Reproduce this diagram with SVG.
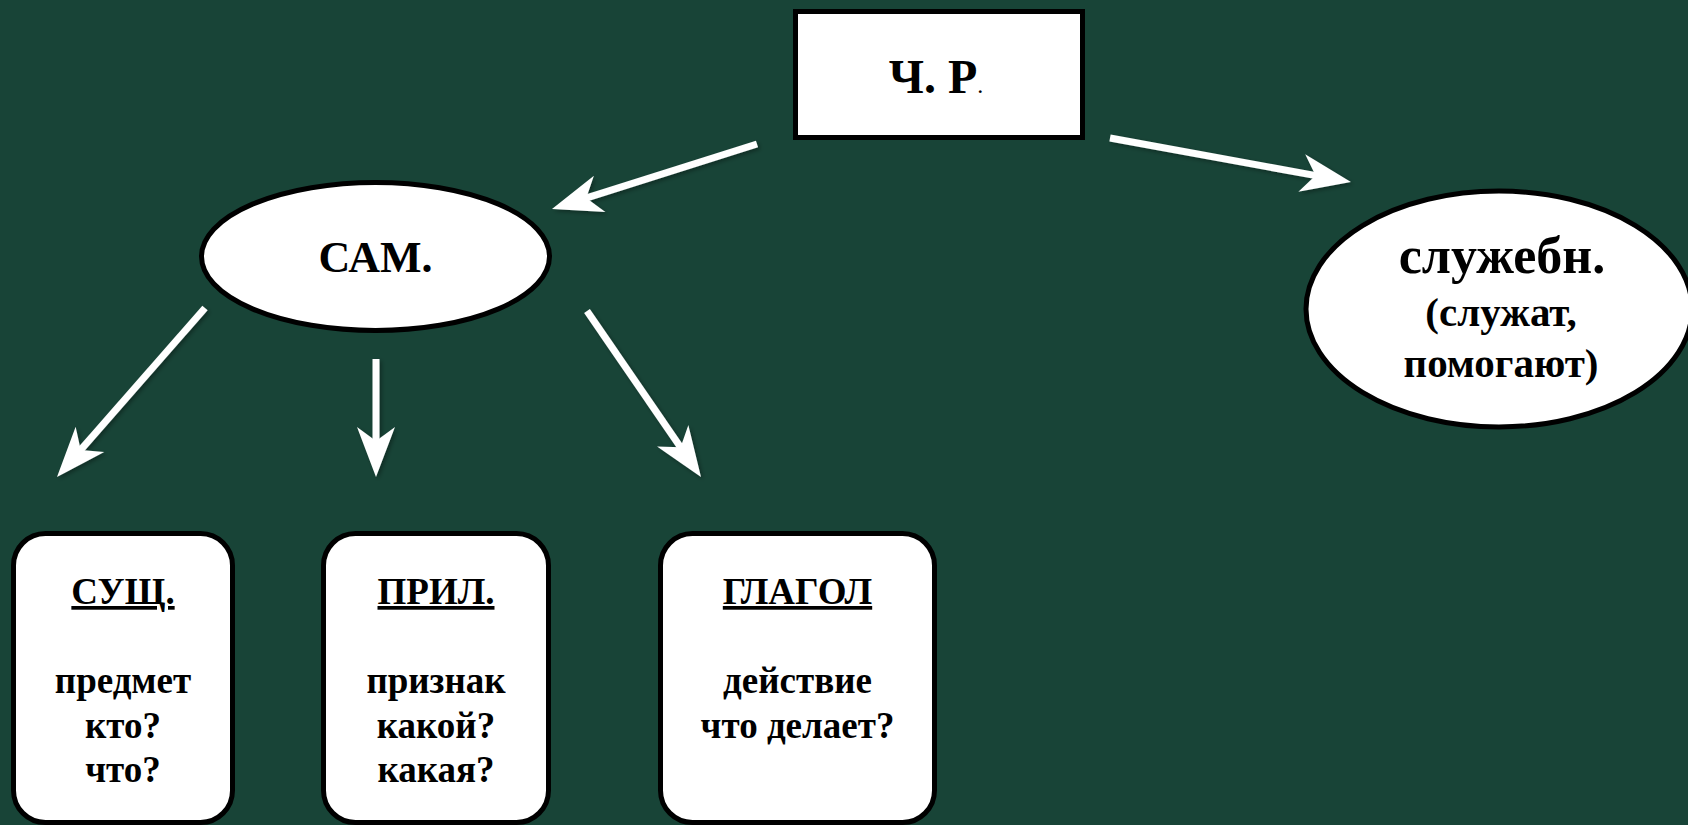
<svg xmlns="http://www.w3.org/2000/svg" width="1688" height="825" viewBox="0 0 1688 825">
  <style>
    .node { fill: #ffffff; stroke: #000000; stroke-width: 5; }
    .t { font-family: "Liberation Serif", "Times New Roman", serif; font-weight: bold; fill: #000000; text-anchor: middle; }
    .conn { stroke: #ffffff; stroke-width: 7; fill: none; marker-end: url(#head); }
  </style>
  <defs>
    <marker id="head" markerUnits="userSpaceOnUse" viewBox="-20 -22 60 44" markerWidth="60" markerHeight="44" refX="0" refY="0" orient="auto" overflow="visible">
      <path d="M34,0 L-16,-19 L-2,0 L-16,19 Z" fill="#ffffff"/>
    </marker>
    <filter id="shadow" x="-20%" y="-20%" width="140%" height="140%">
      <feDropShadow dx="2" dy="2" stdDeviation="2" flood-color="#000000" flood-opacity="0.35"/>
    </filter>
  </defs>
  <rect x="0" y="0" width="1688" height="825" fill="#184437"/>

  <g id="connectors" filter="url(#shadow)">
    <line class="conn" x1="757" y1="144" x2="584.4" y2="198.7"/>
    <line class="conn" x1="1110" y1="138" x2="1317.5" y2="175.9"/>
    <line class="conn" x1="205" y1="308" x2="79.4" y2="451.4"/>
    <line class="conn" x1="376" y1="359" x2="376" y2="443"/>
    <line class="conn" x1="587" y1="311" x2="681.75" y2="449"/>
  </g>

  <g id="node-chr">
    <rect class="node" x="795.5" y="11.5" width="287" height="126"/>
    <text class="t" x="936" y="93" font-size="48">Ч. Р<tspan font-size="24" font-weight="normal">.</tspan></text>
  </g>

  <g id="node-sam">
    <ellipse class="node" cx="375.5" cy="256.5" rx="174" ry="74"/>
    <text class="t" x="375.5" y="272" font-size="44">САМ.</text>
  </g>

  <g id="node-sluzh">
    <ellipse class="node" cx="1499" cy="309" rx="193" ry="118"/>
    <text class="t" x="1502" y="273" font-size="52">служебн.</text>
    <text class="t" x="1501" y="326" font-size="41">(служат,</text>
    <text class="t" x="1501" y="377" font-size="41">помогают)</text>
  </g>

  <g id="node-sushch">
    <rect class="node" x="13.5" y="533.5" width="219" height="289" rx="32" ry="32"/>
    <text class="t" x="123" y="604" font-size="37" text-decoration="underline">СУЩ.</text>
    <text class="t" x="123" y="693" font-size="37">предмет</text>
    <text class="t" x="123" y="738" font-size="37">кто?</text>
    <text class="t" x="123" y="782" font-size="37">что?</text>
  </g>

  <g id="node-pril">
    <rect class="node" x="323.5" y="533.5" width="225" height="289" rx="32" ry="32"/>
    <text class="t" x="436" y="604" font-size="37" text-decoration="underline">ПРИЛ.</text>
    <text class="t" x="436" y="693" font-size="37">признак</text>
    <text class="t" x="436" y="738" font-size="37">какой?</text>
    <text class="t" x="436" y="782" font-size="37">какая?</text>
  </g>

  <g id="node-glagol">
    <rect class="node" x="660.5" y="533.5" width="274" height="289" rx="32" ry="32"/>
    <text class="t" x="797.5" y="604" font-size="37" text-decoration="underline">ГЛАГОЛ</text>
    <text class="t" x="797.5" y="693" font-size="37">действие</text>
    <text class="t" x="797.5" y="738" font-size="37">что делает?</text>
  </g>
</svg>
